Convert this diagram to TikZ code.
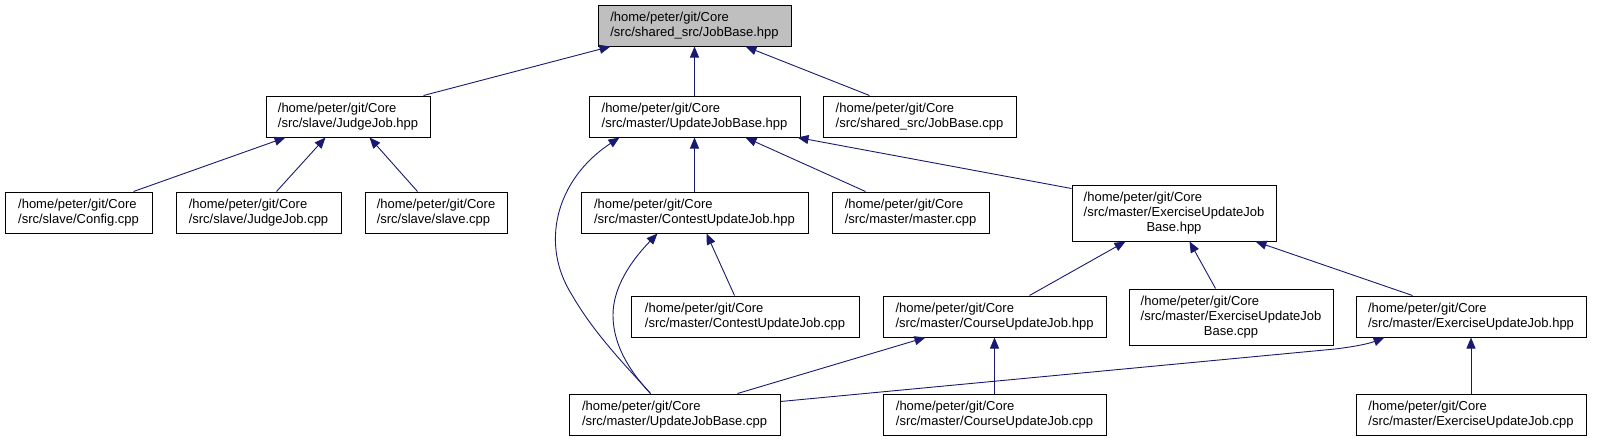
\documentclass[tikz,border=0pt]{standalone}
\usepackage{fontspec}
\setmainfont{Liberation Sans}
\usetikzlibrary{arrows.meta}
\definecolor{edgeblue}{RGB}{25,25,112}
\definecolor{topgray}{RGB}{191,191,191}
\begin{document}
\begin{tikzpicture}[x=1pt,y=-1pt,
  box/.style={draw=black, line width=1pt, fill=white, inner sep=0pt, align=left,
    font=\fontsize{13}{15}\selectfont, minimum height=41pt},
  edge/.style={draw=edgeblue, line width=0.9pt, {Triangle[length=11pt,width=9pt]}-},
]
\useasboundingbox (0,0) rectangle (1597,439);

\node[box, fill=topgray, minimum width=193pt] (jbh) at (694.5,25.5) {/home/peter/git/Core\\/src/shared\_src/JobBase.hpp};
\node[box, minimum width=164pt] (jjh) at (348,116.5) {/home/peter/git/Core\\/src/slave/JudgeJob.hpp};
\node[box, minimum width=211pt] (ujbh) at (694.5,116.5) {/home/peter/git/Core\\/src/master/UpdateJobBase.hpp};
\node[box, minimum width=193pt] (jbc) at (919.5,116.5) {/home/peter/git/Core\\/src/shared\_src/JobBase.cpp};
\node[box, minimum width=147pt] (cfg) at (78.5,212.5) {/home/peter/git/Core\\/src/slave/Config.cpp};
\node[box, minimum width=165pt] (jjc) at (258.5,212.5) {/home/peter/git/Core\\/src/slave/JudgeJob.cpp};
\node[box, minimum width=142pt] (slv) at (436,212.5) {/home/peter/git/Core\\/src/slave/slave.cpp};
\node[box, minimum width=227pt] (cujh) at (694.5,212.5) {/home/peter/git/Core\\/src/master/ContestUpdateJob.hpp};
\node[box, minimum width=157pt] (mst) at (910.5,212.5) {/home/peter/git/Core\\/src/master/master.cpp};
\node[box, minimum width=204pt, minimum height=56pt] (eujbh) at (1174,213) {\begin{tabular}{@{}l@{}}/home/peter/git/Core\\/src/master/ExerciseUpdateJob\\\multicolumn{1}{@{}c@{}}{Base.hpp}\end{tabular}};
\node[box, minimum width=228pt] (cujc) at (745,316.5) {/home/peter/git/Core\\/src/master/ContestUpdateJob.cpp};
\node[box, minimum width=223pt] (coujh) at (994.5,316.5) {/home/peter/git/Core\\/src/master/CourseUpdateJob.hpp};
\node[box, minimum width=204pt, minimum height=56pt] (eujbc) at (1231,317) {\begin{tabular}{@{}l@{}}/home/peter/git/Core\\/src/master/ExerciseUpdateJob\\\multicolumn{1}{@{}c@{}}{Base.cpp}\end{tabular}};
\node[box, minimum width=230pt] (eujh) at (1471,316.5) {/home/peter/git/Core\\/src/master/ExerciseUpdateJob.hpp};
\node[box, minimum width=211pt] (ujbc) at (674.5,414.5) {/home/peter/git/Core\\/src/master/UpdateJobBase.cpp};
\node[box, minimum width=223pt] (coujc) at (994.5,414.5) {/home/peter/git/Core\\/src/master/CourseUpdateJob.cpp};
\node[box, minimum width=230pt] (eujc) at (1471,414.5) {/home/peter/git/Core\\/src/master/ExerciseUpdateJob.cpp};

\draw[edge] ([xshift=13pt]jbh.south west) -- ([xshift=158pt]jjh.north west);
\draw[edge] (jbh.south) -- (ujbh.north);
\draw[edge] ([xshift=148pt]jbh.south west) -- ([xshift=47pt]jbc.north west);
\draw[edge] ([xshift=20pt]jjh.south west) -- ([xshift=129pt]cfg.north west);
\draw[edge] ([xshift=60pt]jjh.south west) -- ([xshift=101pt]jjc.north west);
\draw[edge] ([xshift=104pt]jjh.south west) -- ([xshift=53pt]slv.north west);
\draw[edge] ([xshift=31pt]ujbh.south west) .. controls (555,180) and (540,245) .. (572,295) .. controls (595,335) and (628,368) .. ([xshift=82pt]ujbc.north west);
\draw[edge] (ujbh.south) -- (cujh.north);
\draw[edge] ([xshift=157pt]ujbh.south west) -- ([xshift=34pt]mst.north west);
\draw[edge] ([xshift=-3pt]ujbh.south east) -- ([yshift=-4pt]eujbh.north west);
\draw[edge] ([xshift=77pt]cujh.south west) .. controls (630,262) and (613,288) .. (613,315) .. controls (613,350) and (636,378) .. ([xshift=82pt]ujbc.north west);
\draw[edge] ([xshift=126pt]cujh.south west) -- ([xshift=104pt]cujc.north west);
\draw[edge] ([xshift=54pt]eujbh.south west) -- ([xshift=147pt]coujh.north west);
\draw[edge] ([xshift=118pt]eujbh.south west) -- ([xshift=87pt]eujbc.north west);
\draw[edge] ([xshift=184pt]eujbh.south west) -- ([xshift=57pt]eujh.north west);
\draw[edge] ([xshift=43pt]coujh.south west) -- ([xshift=169pt]ujbc.north west);
\draw[edge] (coujh.south) -- (coujc.north);
\draw[edge] ([xshift=29pt]eujh.south west) .. controls (1368,344) and (1352,347) .. (1335,349) -- ([yshift=-8pt]ujbc.north east);
\draw[edge] (eujh.south) -- (eujc.north);
\end{tikzpicture}
\end{document}
